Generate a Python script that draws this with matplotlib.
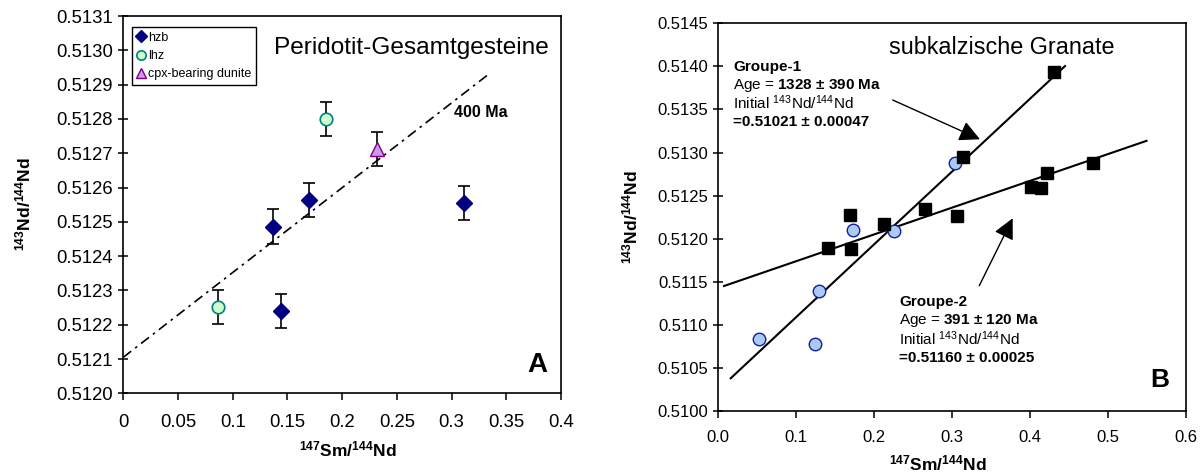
import matplotlib
matplotlib.use('Agg')
import matplotlib.pyplot as plt
from matplotlib.ticker import MultipleLocator, FormatStrFormatter

plt.rcParams['font.family'] = ['Liberation Sans', 'DejaVu Sans']
plt.rcParams['mathtext.fontset'] = 'custom'
plt.rcParams['mathtext.rm'] = 'Liberation Sans'
plt.rcParams['mathtext.bf'] = 'Liberation Sans:bold'
plt.rcParams['mathtext.it'] = 'Liberation Sans:italic'

# ---- panel A: whole-rock peridotites ----
hzb_x = [0.137, 0.170, 0.311, 0.144]
hzb_y = [0.512486, 0.512563, 0.512554, 0.51224]
lhz_x = [0.185, 0.087]
lhz_y = [0.51280, 0.512251]
cpx_x = [0.232]
cpx_y = [0.512712]
err_a = 0.00005

iso400_x = [0.0, 0.335]
iso400_y = [0.512105, 0.512933]

# ---- panel B: subcalcic garnets ----
sq_x = [0.430, 0.314, 0.169, 0.213, 0.265, 0.306, 0.4005, 0.414, 0.422, 0.481, 0.140, 0.170]
sq_y = [0.513931, 0.512952, 0.512275, 0.512167, 0.512345, 0.512263,
        0.512604, 0.512585, 0.512766, 0.512875, 0.511889, 0.51188]
circ_x = [0.304, 0.173, 0.2255, 0.1295, 0.0526, 0.124]
circ_y = [0.512875, 0.512101, 0.51209, 0.511393, 0.510832, 0.510778]

grp1_x = [0.0159, 0.4445]
grp1_y = [0.51038, 0.514004]
grp2_x = [0.0073, 0.549]
grp2_y = [0.511451, 0.513136]

fig = plt.figure(figsize=(12.04, 4.75), dpi=100)
axA = fig.add_axes([0.1024, 0.1720, 0.3635, 0.7943])
axB = fig.add_axes([0.5966, 0.1347, 0.3887, 0.8162])

for ax in (axA, axB):
    for s in ax.spines.values():
        s.set_linewidth(1.2)
        s.set_color('black')
    ax.tick_params(axis='y', direction='inout', length=7, width=1.1, pad=4)
    ax.tick_params(axis='x', direction='out', length=5, width=1.1, pad=10)

# panel A
axA.plot(iso400_x, iso400_y, color='black', lw=1.2, linestyle=(0, (6, 3, 1.5, 3)), zorder=2)
axA.errorbar(hzb_x + lhz_x + cpx_x, hzb_y + lhz_y + cpx_y, yerr=err_a, fmt='none',
             ecolor='black', elinewidth=1.2, capsize=4, capthick=1.2, zorder=3)
axA.plot(hzb_x, hzb_y, 'D', ms=8, color='#000080', mec='#000080', label='hzb', zorder=4)
axA.plot(lhz_x, lhz_y, 'o', ms=9, mfc='#ccffcc', mec='#008080', mew=1.2, label='lhz', zorder=4)
axA.plot(cpx_x, cpx_y, '^', ms=10, mfc='#cc99ee', mec='#800080', mew=1.0,
         label='cpx-bearing dunite', zorder=4)

leg = axA.legend(loc='upper left', bbox_to_anchor=(0.0206, 0.9716), borderaxespad=0,
                 fontsize=9, frameon=True, fancybox=False, edgecolor='black', framealpha=1,
                 handlelength=0.6, handletextpad=0.25, borderpad=0.4, labelspacing=0.5,
                 markerscale=0.75)
leg.get_frame().set_linewidth(1.0)

axA.set_xlim(0, 0.4)
axA.set_ylim(0.5120, 0.5131)
axA.xaxis.set_major_locator(MultipleLocator(0.05))
axA.yaxis.set_major_locator(MultipleLocator(0.0001))
axA.xaxis.set_major_formatter(FormatStrFormatter('%g'))
axA.yaxis.set_major_formatter(FormatStrFormatter('%.4f'))
axA.tick_params(labelsize=13.3)

axA.text(0.344, 0.915, 'Peridotit-Gesamtgesteine', transform=axA.transAxes,
         fontsize=17.6, va='center', ha='left')
axA.text(0.302, 0.51282, '400 Ma', fontsize=11.5, fontweight='bold', va='center', ha='left')
axA.text(0.945, 0.075, 'A', transform=axA.transAxes, fontsize=20, fontweight='bold',
         ha='center', va='center')

# panel B
axB.plot(grp1_x, grp1_y, color='black', lw=1.5, zorder=2)
axB.plot(grp2_x, grp2_y, color='black', lw=1.5, zorder=2)
axB.plot(circ_x, circ_y, 'o', ms=9, mfc='#a8cbf2', mec='#1a1aa0', mew=1.0, zorder=3)
axB.plot(sq_x, sq_y, 's', ms=9.3, color='black', zorder=4)

arrow = dict(arrowstyle='-|>,head_length=0.9,head_width=0.45', color='black', lw=1.0,
             mutation_scale=14, shrinkA=0, shrinkB=0)
axB.annotate('', xy=(0.3355, 0.513154), xytext=(0.2236, 0.51361), arrowprops=arrow)
axB.annotate('', xy=(0.3774, 0.512237), xytext=(0.3346, 0.511455), arrowprops=arrow)

fs = 11
axB.text(0.0192, 0.51399, 'Groupe-1', fontsize=fs, fontweight='bold', va='center')
axB.text(0.0192, 0.513784, r'Age = $\mathbf{1328\ ±\ 390\ Ma}$', fontsize=fs, va='center')
axB.text(0.0192, 0.513578, r'Initial $^{143}$Nd/$^{144}$Nd', fontsize=fs, va='center')
axB.text(0.0192, 0.513358, '=0.51021 \u00b1 0.00047', fontsize=fs, fontweight='bold', va='center')

axB.text(0.232, 0.511262, 'Groupe-2', fontsize=fs, fontweight='bold', va='center')
axB.text(0.232, 0.511045, r'Age = $\mathbf{391\ ±\ 120\ Ma}$', fontsize=fs, va='center')
axB.text(0.232, 0.510836, r'Initial $^{143}$Nd/$^{144}$Nd', fontsize=fs, va='center')
axB.text(0.232, 0.510619, '=0.51160 \u00b1 0.00025', fontsize=fs, fontweight='bold', va='center')

axB.set_xlim(0, 0.6)
axB.set_ylim(0.5100, 0.5145)
axB.xaxis.set_major_locator(MultipleLocator(0.1))
axB.yaxis.set_major_locator(MultipleLocator(0.0005))
axB.xaxis.set_major_formatter(FormatStrFormatter('%.1f'))
axB.yaxis.set_major_formatter(FormatStrFormatter('%.4f'))
axB.tick_params(labelsize=12)
axB.tick_params(axis='x', pad=9)

axB.text(0.365, 0.938, 'subkalzische Granate', transform=axB.transAxes,
         fontsize=16.8, va='center', ha='left')
axB.text(0.944, 0.08, 'B', transform=axB.transAxes, fontsize=19, fontweight='bold',
         ha='center', va='center')

# axis titles
ylab = r'$\mathbf{^{143}Nd/^{144}Nd}$'
xlab = r'$\mathbf{^{147}Sm/^{144}Nd}$'
fig.text(23 / 1204, 1 - 204 / 475, ylab, rotation=90, fontsize=12.5, ha='center', va='center')
fig.text(630 / 1204, 1 - 217 / 475, ylab, rotation=90, fontsize=12.5, ha='center', va='center')
fig.text(348 / 1204, 1 - 456 / 475, xlab, fontsize=12.5, ha='center', va='baseline')
fig.text(938 / 1204, 1 - 470 / 475, xlab, fontsize=12.5, ha='center', va='baseline')

fig.savefig('out.png', dpi=100)
